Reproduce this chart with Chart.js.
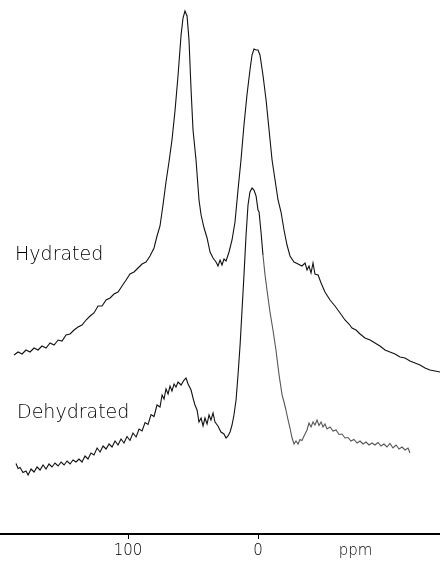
<!DOCTYPE html>
<html>
<head>
<meta charset="utf-8">
<script src="https://cdn.jsdelivr.net/npm/chart.js@4"></script>
<style>
  html, body { margin: 0; padding: 0; background: #fff; }
  #wrap { width: 440px; height: 568px; }
</style>
</head>
<body>
<div id="wrap"><canvas id="nmr" width="440" height="568"></canvas></div>
<script>
// [ppm, intensity]
const hydrated = [
  [187.7,35.8],[184.6,36.4],[181.5,36.0],[178.5,36.8],[175.4,36.4],[172.3,37.2],[169.2,36.8],[166.2,37.6],
  [163.1,37.2],[160.0,38.2],[156.9,37.8],[153.8,38.8],[150.8,38.6],[147.7,39.8],[144.6,40.0],[141.5,40.8],
  [138.5,41.4],[135.4,41.8],[132.3,42.8],[129.2,43.6],[126.2,44.2],[123.1,45.6],[120.0,45.6],[116.9,46.8],
  [113.8,47.2],[110.8,48.0],[107.7,48.4],[104.6,49.6],[101.5,50.8],[98.5,52.0],[95.4,52.4],[92.3,53.2],
  [89.2,54.0],[86.2,54.4],[83.1,55.6],[80.0,57.2],[77.7,59.6],[75.4,61.6],[73.1,65.8],[70.8,70.4],
  [68.5,74.4],[66.2,78.8],[63.8,84.8],[61.5,91.8],[59.2,99.8],[57.7,103.2],[56.2,104.6],[54.6,103.6],
  [53.1,98.8],[51.5,88.8],[50.0,80.8],[47.7,74.8],[45.4,66.8],[43.8,63.8],[41.5,61.2],[39.2,59.2],
  [36.9,56.4],[34.6,55.2],[32.3,54.4],[30.8,53.6],[29.2,54.8],[27.7,53.8],[26.2,55.0],[24.6,54.6],
  [22.3,56.4],[20.0,58.8],[17.7,62.4],[15.4,68.8],[13.1,74.8],[10.8,81.8],[8.5,87.8],[6.2,92.8],
  [4.6,95.8],[3.1,97.0],[1.5,96.8],[0,96.8],[-1.5,95.8],[-3.8,91.8],[-6.2,86.8],[-8.5,80.8],
  [-10.8,74.8],[-13.1,70.8],[-15.4,66.8],[-17.7,64.4],[-20.0,60.8],[-22.3,57.8],[-24.6,55.6],[-27.7,54.4],
  [-30.8,54.0],[-33.8,53.6],[-36.2,54.2],[-37.7,52.8],[-39.2,53.6],[-40.8,52.2],[-42.3,54.2],[-43.8,52.0],
  [-46.2,51.8],[-48.5,50.2],[-51.5,48.4],[-55.4,46.8],[-59.2,45.6],[-63.1,44.2],[-66.9,42.8],[-70.0,42.0],
  [-72.3,41.2],[-75.4,40.8],[-78.5,40.0],[-82.3,39.2],[-86.2,38.8],[-90.0,38.2],[-93.8,37.6],[-97.7,36.8],
  [-101.5,36.4],[-105.4,36.0],[-109.2,35.4],[-113.1,35.2],[-116.9,34.6],[-120.8,34.2],[-124.6,33.8],
  [-128.5,33.2],[-132.3,32.8],[-136.2,32.6],[-140.0,32.4]
];

const dehydrated = [
  [186.2,14.1],[184.6,13.1],[183.1,13.3],[180.8,12.3],[178.5,12.6],[176.9,11.8],[174.6,13.0],[172.3,12.4],
  [170.0,13.4],[167.7,12.8],[165.4,13.8],[163.1,13.0],[160.8,14.0],[158.5,13.4],[156.2,14.2],[153.8,13.6],
  [151.5,14.4],[149.2,13.8],[146.9,14.6],[144.6,14.0],[142.3,14.8],[140.0,14.4],[137.7,15.0],[135.4,14.4],
  [133.1,15.6],[130.8,15.0],[128.5,16.2],[126.2,15.8],[123.8,17.2],[121.5,16.4],[119.2,17.6],[116.9,17.0],
  [114.6,18.0],[112.3,17.4],[110.0,18.6],[107.7,17.8],[105.4,19.0],[103.1,18.2],[100.8,19.5],[98.5,18.7],
  [96.2,20.2],[93.8,19.4],[91.5,21.0],[89.2,20.6],[86.9,22.3],[84.6,21.9],[82.3,23.9],[80.0,23.5],
  [77.7,25.8],[75.4,25.4],[73.8,27.8],[72.3,27.0],[70.8,29.0],[69.2,28.0],[67.7,29.6],[66.2,28.6],
  [64.6,30.0],[63.1,29.4],[61.5,30.4],[59.2,29.8],[56.9,30.8],[55.4,31.2],[53.8,30.0],[51.5,28.8],
  [50.0,27.2],[48.5,25.8],[46.9,24.8],[45.4,22.4],[43.8,23.2],[42.3,21.6],[40.8,23.2],[39.2,22.0],
  [37.7,23.8],[36.2,22.8],[34.6,24.2],[33.1,22.4],[30.8,21.6],[28.5,20.4],[26.2,20.0],[24.6,19.2],
  [23.1,19.6],[21.5,20.4],[20.0,21.8],[18.5,23.8],[16.9,26.8],[15.4,31.8],[13.8,37.8],[12.3,44.8],
  [10.8,51.8],[9.2,59.8],[7.7,65.8],[6.2,68.4],[4.6,69.2],[3.1,68.8],[1.5,67.6],[0,64.8],
  [-0.8,64.4],[-2.3,60.4],[-3.8,55.8],[-5.4,51.8],[-6.9,48.8],[-9.2,44.4],[-11.5,40.8],[-13.8,36.8],
  [-16.2,31.8],[-18.5,27.8],[-20.0,26.4],[-21.5,24.8],[-23.1,22.8],[-24.6,21.2],[-26.2,19.2],[-27.7,18.0],
  [-29.2,18.6],[-30.8,18.0],[-32.3,18.9],[-33.8,18.7],[-35.4,19.6],[-37.7,20.8],[-39.2,22.2],[-40.8,21.4],
  [-42.3,22.4],[-43.8,21.8],[-45.4,22.8],[-46.9,21.7],[-48.5,22.4],[-50.0,21.4],[-51.5,22.0],[-53.1,21.0],
  [-55.4,21.4],[-57.7,20.6],[-60.0,20.8],[-62.3,19.9],[-64.6,20.0],[-66.9,19.2],[-69.2,19.3],[-71.5,18.6],
  [-73.8,18.9],[-76.2,18.2],[-78.5,18.6],[-80.8,18.0],[-83.1,18.4],[-85.4,17.8],[-87.7,18.2],[-90.0,17.8],
  [-92.3,18.3],[-94.6,17.6],[-96.9,18.0],[-99.2,17.4],[-101.5,18.1],[-103.8,17.2],[-106.2,17.8],[-108.5,17.0],
  [-110.8,17.4],[-113.1,16.8],[-115.4,17.2],[-116.9,16.2]
];

const tickValues = [100, 0, -75];
const tickLabels = ['100', '0', 'ppm'];

// trace labels: [text, ppm, intensity]
const traceLabels = [
  ['Hydrated', 186.9, 55.8],
  ['Dehydrated', 185.4, 24.2]
];

const FONT = '"DejaVu Sans", sans-serif';

const toPoints = arr => arr.map(p => ({ x: p[0], y: p[1] }));

const traceLabelPlugin = {
  id: 'traceLabels',
  afterDraw(chart) {
    const { ctx, scales } = chart;
    ctx.save();
    ctx.fillStyle = '#000';
    ctx.font = '200 19px ' + FONT;
    ctx.textAlign = 'left';
    ctx.textBaseline = 'middle';
    traceLabels.forEach(([txt, px, py]) => {
      ctx.fillText(txt, scales.x.getPixelForValue(px), scales.y.getPixelForValue(py));
    });
    ctx.restore();
  }
};

new Chart(document.getElementById('nmr'), {
  type: 'line',
  data: {
    datasets: [
      { label: 'Hydrated', data: toPoints(hydrated), borderColor: '#111', borderWidth: 1.1 },
      {
        label: 'Dehydrated',
        data: toPoints(dehydrated),
        borderColor: '#111',
        borderWidth: 1.1,
        // the upfield part of this trace is drawn with a fainter pen
        segment: { borderColor: c => c.p0.parsed.x < -3 ? '#555' : '#111' }
      }
    ]
  },
  options: {
    responsive: false,
    animation: false,
    layout: { padding: { left: 0, right: 0, top: 0, bottom: 5 } },
    elements: { point: { radius: 0 }, line: { tension: 0 } },
    plugins: { legend: { display: false }, tooltip: { enabled: false } },
    scales: {
      x: {
        type: 'linear',
        reverse: true,
        min: -140,
        max: 198.5,
        border: { color: '#000', width: 2 },
        grid: {
          drawOnChartArea: false,
          tickLength: 5,
          lineWidth: 1,
          tickColor: c => (c.tick && c.tick.value === -75) ? 'rgba(0,0,0,0)' : '#000'
        },
        afterBuildTicks: s => { s.ticks = tickValues.map(v => ({ value: v })); },
        ticks: {
          autoSkip: false,
          maxRotation: 0,
          color: '#000',
          padding: 3,
          font: { family: FONT, size: 15, weight: '200' },
          callback: v => tickLabels[tickValues.indexOf(v)]
        }
      },
      y: { display: false, min: 0, max: 106.8 }
    }
  },
  plugins: [traceLabelPlugin]
});
</script>
</body>
</html>
